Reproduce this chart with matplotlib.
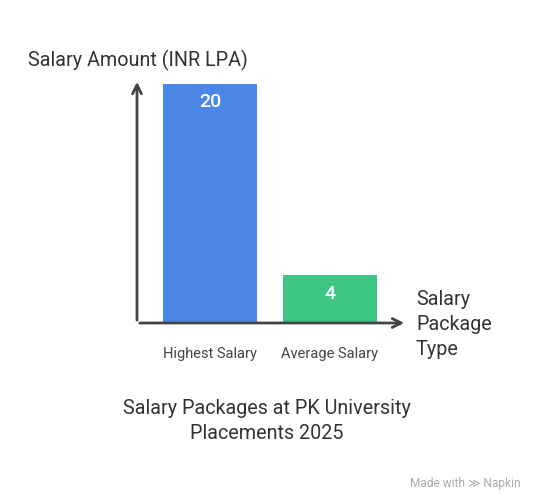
import matplotlib.pyplot as plt

categories = ['Highest Salary', 'Average Salary']
values = [20, 4]
colors = ['#4A87E6', '#3DC583']

plt.rcParams['font.family'] = ['Roboto', 'DejaVu Sans']

W, H = 534, 502
fig = plt.figure(figsize=(W / 100, H / 100), dpi=100)

# axes box in pixels: x 137..407, y 80..324 (from top)
ax = fig.add_axes([137 / W, (H - 324) / H, 270 / W, 244 / H])
ax.set_xlim(-0.608, 1.642)
ax.set_ylim(0, 20.42)
for s in ax.spines.values():
    s.set_visible(False)
ax.set_xticks([])
ax.set_yticks([])

xs = range(len(categories))
ax.bar(xs, values, width=0.783, color=colors)

for x, v in zip(xs, values):
    ax.text(x, v - 1.45, str(v), ha='center', va='center', color='white', fontsize=14, fontweight='medium')
    ax.text(x, -2.5, categories[x], ha='center', va='center', color='#444444', fontsize=10.5)

# axis arrows
arrow = dict(arrowstyle='->', color='#444444', lw=2, mutation_scale=16)
ax.annotate('', xy=(0, 1), xytext=(0, 0), xycoords='axes fraction', arrowprops=arrow)
ax.annotate('', xy=(1, 0), xytext=(0, 0), xycoords='axes fraction', arrowprops=arrow)

fig.text(28 / W, 1 - 60 / H, 'Salary Amount (INR LPA)', ha='left', va='center', fontsize=14.2, color='#333333')
fig.text(416 / W, 1 - 325 / H, 'Salary\nPackage\nType', ha='left', va='center', fontsize=14.2,
         color='#333333', linespacing=1.4)
fig.text(267 / W, 1 - 421 / H, 'Salary Packages at PK University\nPlacements 2025', ha='center', va='center',
         fontsize=14.2, color='#333333', linespacing=1.4)
fig.text(521 / W, 1 - 484 / H, 'Made with \u226B Napkin', ha='right', va='center', fontsize=8.6, color='#AAAAAA')

fig.savefig('out.png', dpi=100)
